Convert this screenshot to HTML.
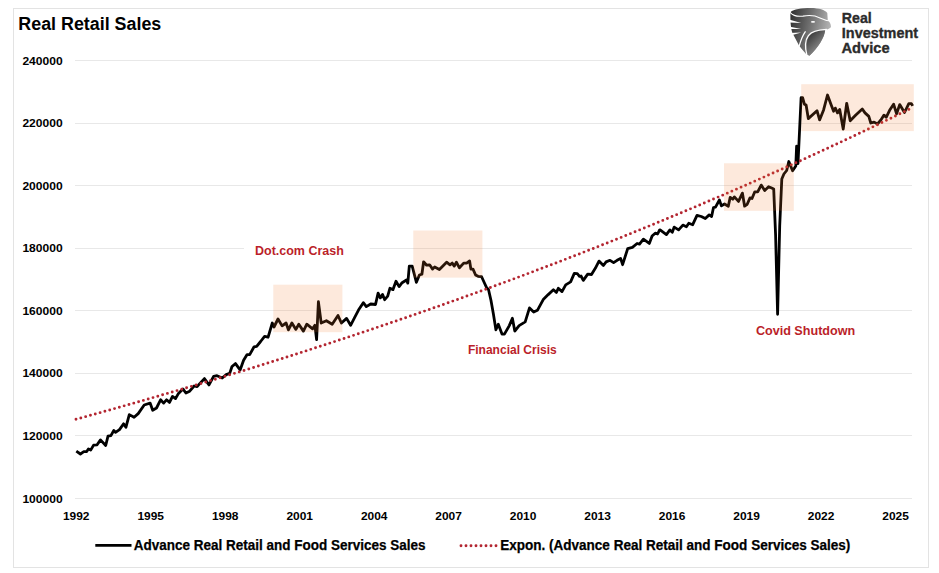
<!DOCTYPE html>
<html><head><meta charset="utf-8">
<style>
html,body{margin:0;padding:0;background:#fff;}
svg{display:block;}
text{font-family:"Liberation Sans", sans-serif;font-weight:bold;}
.ax{font-size:11.5px;fill:#000;}
.lg{font-size:14px;fill:#000;stroke:#000;stroke-width:0.25px;}
.an{font-size:12.6px;fill:#bb1f2a;}
.logo{font-size:15px;fill:#2b2b2b;stroke:#2b2b2b;stroke-width:0.35px;}
</style></head>
<body>
<svg width="939" height="573" viewBox="0 0 939 573">
<rect x="0" y="0" width="939" height="573" fill="#fff"/>
<rect x="13.5" y="8.5" width="915" height="559" fill="none" stroke="#e3e3e3" stroke-width="1"/>
<line x1="75" y1="60.5" x2="912" y2="60.5" stroke="#e8e8e8" stroke-width="1"/>
<line x1="75" y1="123.5" x2="912" y2="123.5" stroke="#e8e8e8" stroke-width="1"/>
<line x1="75" y1="185.5" x2="912" y2="185.5" stroke="#e8e8e8" stroke-width="1"/>
<line x1="75" y1="248.5" x2="912" y2="248.5" stroke="#e8e8e8" stroke-width="1"/>
<line x1="75" y1="310.5" x2="912" y2="310.5" stroke="#e8e8e8" stroke-width="1"/>
<line x1="75" y1="373.5" x2="912" y2="373.5" stroke="#e8e8e8" stroke-width="1"/>
<line x1="75" y1="435.5" x2="912" y2="435.5" stroke="#e8e8e8" stroke-width="1"/>
<line x1="75" y1="498.5" x2="912" y2="498.5" stroke="#e8e8e8" stroke-width="1"/>
<text x="62.6" y="64.5" text-anchor="end" textLength="40.2" lengthAdjust="spacingAndGlyphs" class="ax">240000</text>
<text x="62.6" y="127.1" text-anchor="end" textLength="40.2" lengthAdjust="spacingAndGlyphs" class="ax">220000</text>
<text x="62.6" y="189.6" text-anchor="end" textLength="40.2" lengthAdjust="spacingAndGlyphs" class="ax">200000</text>
<text x="62.6" y="252.2" text-anchor="end" textLength="40.2" lengthAdjust="spacingAndGlyphs" class="ax">180000</text>
<text x="62.6" y="314.8" text-anchor="end" textLength="40.2" lengthAdjust="spacingAndGlyphs" class="ax">160000</text>
<text x="62.6" y="377.4" text-anchor="end" textLength="40.2" lengthAdjust="spacingAndGlyphs" class="ax">140000</text>
<text x="62.6" y="439.9" text-anchor="end" textLength="40.2" lengthAdjust="spacingAndGlyphs" class="ax">120000</text>
<text x="62.6" y="502.5" text-anchor="end" textLength="40.2" lengthAdjust="spacingAndGlyphs" class="ax">100000</text>
<text x="62.9" y="519.8" textLength="26.6" lengthAdjust="spacingAndGlyphs" class="ax">1992</text>
<text x="137.4" y="519.8" textLength="26.6" lengthAdjust="spacingAndGlyphs" class="ax">1995</text>
<text x="211.9" y="519.8" textLength="26.6" lengthAdjust="spacingAndGlyphs" class="ax">1998</text>
<text x="286.4" y="519.8" textLength="26.6" lengthAdjust="spacingAndGlyphs" class="ax">2001</text>
<text x="360.9" y="519.8" textLength="26.6" lengthAdjust="spacingAndGlyphs" class="ax">2004</text>
<text x="435.3" y="519.8" textLength="26.6" lengthAdjust="spacingAndGlyphs" class="ax">2007</text>
<text x="509.8" y="519.8" textLength="26.6" lengthAdjust="spacingAndGlyphs" class="ax">2010</text>
<text x="584.3" y="519.8" textLength="26.6" lengthAdjust="spacingAndGlyphs" class="ax">2013</text>
<text x="658.8" y="519.8" textLength="26.6" lengthAdjust="spacingAndGlyphs" class="ax">2016</text>
<text x="733.3" y="519.8" textLength="26.6" lengthAdjust="spacingAndGlyphs" class="ax">2019</text>
<text x="807.8" y="519.8" textLength="26.6" lengthAdjust="spacingAndGlyphs" class="ax">2022</text>
<text x="882.3" y="519.8" textLength="26.6" lengthAdjust="spacingAndGlyphs" class="ax">2025</text>
<rect x="244" y="239" width="125.5" height="19" fill="#fff"/>
<text x="18.3" y="29.7" textLength="143" lengthAdjust="spacingAndGlyphs" style="font-size:17.5px;fill:#000">Real Retail Sales</text>
<path d="M76.3 451.2 L80.4 454.0 L83.8 451.7 L86.7 451.5 L88.4 448.9 L90.7 450.1 L93.6 445.1 L97.1 444.8 L100.5 439.9 L105.7 445.5 L108.0 436.2 L110.9 435.6 L113.8 430.5 L115.5 432.4 L119.5 429.6 L123.6 423.8 L125.9 427.3 L129.3 414.6 L134.1 417.3 L138.2 413.6 L144.2 405.0 L150.1 403.1 L152.7 410.2 L156.5 408.0 L160.6 399.8 L163.6 403.1 L166.5 399.8 L169.5 402.4 L172.5 396.4 L175.5 398.6 L178.5 393.4 L182.9 388.9 L185.9 393.0 L189.7 391.2 L194.1 386.0 L197.1 386.7 L199.7 383.7 L204.4 378.6 L209.0 384.9 L213.6 376.3 L217.0 375.7 L222.2 378.0 L226.2 374.6 L229.7 373.4 L232.0 366.5 L235.5 363.6 L240.1 369.9 L243.6 360.3 L247.1 354.6 L249.7 354.6 L254.1 346.8 L256.7 346.3 L260.6 341.5 L264.6 336.3 L268.1 337.2 L272.3 323.0 L274.0 327.0 L278.0 319.0 L282.1 325.9 L286.1 323.0 L288.4 329.9 L291.9 323.0 L295.9 329.4 L298.8 324.2 L303.4 331.1 L306.8 324.2 L312.6 328.8 L314.9 325.3 L316.6 339.7 L318.4 301.7 L321.2 323.0 L326.4 320.7 L332.2 324.2 L338.0 315.5 L341.4 323.0 L346.6 318.4 L350.6 325.3 L354.7 317.3 L358.5 310.1 L363.3 302.7 L366.3 306.6 L370.7 304.0 L375.5 304.5 L378.1 293.1 L380.3 297.9 L382.5 294.4 L384.7 299.7 L387.7 296.2 L389.9 288.3 L393.0 289.6 L396.0 281.3 L399.1 286.6 L402.1 282.7 L406.5 280.0 L407.8 283.1 L409.3 266.1 L412.2 266.1 L416.4 282.3 L419.4 275.0 L421.9 274.2 L423.6 261.8 L426.6 265.2 L429.6 264.8 L432.6 269.1 L434.7 266.9 L439.4 269.5 L446.6 262.2 L450.0 264.8 L452.2 263.1 L454.3 266.1 L456.4 262.2 L459.4 267.8 L463.7 263.1 L466.6 263.1 L469.6 261.0 L470.9 269.1 L473.0 269.1 L475.6 275.0 L478.1 276.3 L481.6 276.7 L484.1 282.3 L486.7 287.8 L488.5 289.5 L491.0 300.5 L493.4 314.0 L495.9 329.8 L498.3 324.3 L502.0 334.1 L504.4 334.1 L509.3 325.6 L512.4 318.2 L514.8 331.1 L519.1 325.6 L525.2 321.9 L529.5 307.9 L533.7 312.1 L537.4 310.3 L543.5 299.2 L548.2 294.6 L553.4 289.8 L556.4 292.4 L558.3 288.3 L562.0 291.6 L565.7 284.9 L570.6 281.9 L574.3 273.4 L577.3 273.7 L579.5 276.3 L581.0 276.0 L583.3 280.4 L587.7 274.1 L591.5 274.5 L595.3 268.3 L599.0 261.1 L603.4 265.5 L606.1 261.9 L610.0 260.3 L613.6 262.7 L617.1 260.3 L620.6 258.4 L622.6 264.7 L627.7 248.6 L632.4 247.4 L637.1 243.5 L639.5 244.2 L643.4 239.1 L646.2 241.1 L649.3 243.5 L652.1 236.0 L655.2 233.2 L657.6 234.0 L659.5 230.1 L660.1 229.9 L666.4 234.6 L669.9 229.9 L672.3 232.2 L674.2 227.1 L678.6 229.9 L682.9 225.1 L686.4 226.7 L688.8 223.2 L692.7 224.7 L697.0 215.3 L701.3 216.5 L705.3 218.5 L709.2 214.9 L711.6 216.5 L713.5 207.5 L715.5 207.1 L719.4 200.0 L721.4 205.9 L724.5 204.0 L728.3 206.2 L730.2 197.3 L732.8 199.2 L734.4 196.9 L738.5 201.4 L742.4 193.1 L744.6 206.2 L747.2 204.3 L750.0 197.9 L752.0 198.5 L754.8 191.8 L757.7 191.8 L761.2 185.1 L764.7 190.5 L768.6 186.7 L771.1 187.7 L773.7 188.9 L775.6 235.0 L777.6 314.3 L779.7 226.0 L781.8 179.0 L783.9 174.0 L786.7 170.5 L788.8 161.5 L792.6 170.7 L795.8 166.0 L796.6 146.2 L798.0 163.5 L801.1 97.7 L802.6 97.7 L804.4 104.2 L806.1 105.1 L808.3 118.6 L817.0 110.7 L819.6 119.9 L823.6 109.9 L827.5 95.0 L831.4 105.5 L833.6 111.2 L835.3 108.1 L837.5 112.9 L839.7 109.4 L843.2 129.1 L846.7 103.3 L850.2 120.8 L855.8 115.1 L862.3 109.0 L865.0 112.9 L868.8 116.4 L870.8 123.0 L874.1 122.1 L877.5 124.0 L880.9 119.9 L884.0 115.1 L886.2 117.3 L889.6 110.3 L893.6 104.2 L896.6 113.8 L899.7 104.6 L904.5 112.5 L908.8 103.7 L911.4 103.7 L912.7 105.9" fill="none" stroke="#000" stroke-width="2.8" stroke-linejoin="round" stroke-linecap="butt"/>
<path d="M76.0 419.30 L96.9 413.53 L117.8 407.67 L138.7 401.73 L159.6 395.70 L180.5 389.59 L201.4 383.38 L222.3 377.08 L243.2 370.69 L264.1 364.20 L285.0 357.62 L305.9 350.94 L326.8 344.16 L347.7 337.28 L368.6 330.30 L389.5 323.22 L410.4 316.04 L431.3 308.74 L452.2 301.34 L473.1 293.84 L494.0 286.22 L514.9 278.48 L535.8 270.64 L556.7 262.68 L577.6 254.60 L598.5 246.40 L619.4 238.08 L640.3 229.64 L661.2 221.08 L682.1 212.39 L703.0 203.57 L723.9 194.62 L744.8 185.54 L765.7 176.32 L786.6 166.97 L807.5 157.48 L828.4 147.85 L849.3 138.08 L870.2 128.17 L891.1 118.11 L912.0 107.90" fill="none" stroke="#b32530" stroke-width="2.9" stroke-linecap="round" stroke-dasharray="0 5"/>
<rect x="273.3" y="284.7" width="69.1" height="47.5" fill="rgb(243,125,45)" fill-opacity="0.17"/>
<rect x="413.3" y="230.5" width="69.1" height="47.1" fill="rgb(243,125,45)" fill-opacity="0.17"/>
<rect x="724" y="163.3" width="69.8" height="47.5" fill="rgb(243,125,45)" fill-opacity="0.17"/>
<rect x="801.2" y="84.2" width="112.6" height="46.9" fill="rgb(243,125,45)" fill-opacity="0.17"/>
<text x="255" y="254.5" textLength="88.8" lengthAdjust="spacingAndGlyphs" class="an">Dot.com Crash</text>
<text x="467.9" y="354.3" textLength="88.9" lengthAdjust="spacingAndGlyphs" class="an">Financial Crisis</text>
<text x="755.9" y="334.8" textLength="99.3" lengthAdjust="spacingAndGlyphs" class="an">Covid Shutdown</text>
<line x1="95.3" y1="545.3" x2="131.5" y2="545.3" stroke="#000" stroke-width="2.8"/>
<text x="133.8" y="549.5" textLength="291.6" lengthAdjust="spacingAndGlyphs" class="lg">Advance Real Retail and Food Services Sales</text>
<line x1="461" y1="545.7" x2="497" y2="545.7" stroke="#b32530" stroke-width="2.9" stroke-linecap="round" stroke-dasharray="0 5"/>
<text x="500.2" y="549.5" textLength="350.2" lengthAdjust="spacingAndGlyphs" class="lg">Expon. (Advance Real Retail and Food Services Sales)</text>
<defs>
<linearGradient id="lg" gradientUnits="userSpaceOnUse" x1="790" y1="14" x2="831" y2="22">
<stop offset="0" stop-color="#2e2e2e"/><stop offset="0.5" stop-color="#6f6f6f"/><stop offset="1" stop-color="#b4b4b4"/>
</linearGradient>
<linearGradient id="lg2" gradientUnits="userSpaceOnUse" x1="807" y1="33" x2="824" y2="50">
<stop offset="0" stop-color="#2f2f2f"/><stop offset="1" stop-color="#9c9c9c"/>
</linearGradient>
</defs>
<path d="M790.4 12.2 C794 9.2 801 8.1 811 8.1 C819 8.2 825 10 827.3 13 L827.8 20.5 C829.5 21.5 831 24 831 27 C830 28.5 828 29.5 825 29.8 C825 37 818 48 809.5 55.8 L806.5 54.6 C803.5 51 801 48 799 45.4 L792.2 32.6 C791.2 29 790.5 24 790.4 19 Z" fill="url(#lg)"/>
<path d="M807.8 54.8 C806.2 48 806.2 40 809.3 36.2 C812 32.6 817 30.6 825.2 30.2 C824.6 37.5 818 47.5 809.6 55.6 Z" fill="url(#lg2)"/>
<g fill="#fff">
<path d="M789 19.6 L801.2 23 L789 22.4 Z"/>
<path d="M789 26.6 L801.2 28.9 L789 29 Z"/>
<path d="M790 33 L801.2 32.4 L792.5 35 Z"/>
<ellipse cx="813" cy="21.9" rx="2.2" ry="0.8"/>
</g>
<g fill="none" stroke="#fff" stroke-linecap="round">
<path d="M790 12.3 C793 15.6 797 16.9 803 16.1 C809 15.1 815 15.4 820 17.9 C824 20 827 20.8 832 21" stroke-width="1.1"/>
<path d="M799.2 46 C800.6 41 801.8 36.5 805.2 31.8" stroke-width="1.3"/>
<path d="M806.9 55.4 C805 48 805.1 40 808.4 35.6 C811.5 31.4 817 29.8 826.5 29.4" stroke-width="1.25"/>
</g>
<text x="841.8" y="23" textLength="29.9" lengthAdjust="spacingAndGlyphs" class="logo">Real</text>
<text x="841.8" y="38.1" textLength="76.3" lengthAdjust="spacingAndGlyphs" class="logo">Investment</text>
<text x="841.4" y="52.5" textLength="48.2" lengthAdjust="spacingAndGlyphs" class="logo">Advice</text>
</svg>
</body></html>
